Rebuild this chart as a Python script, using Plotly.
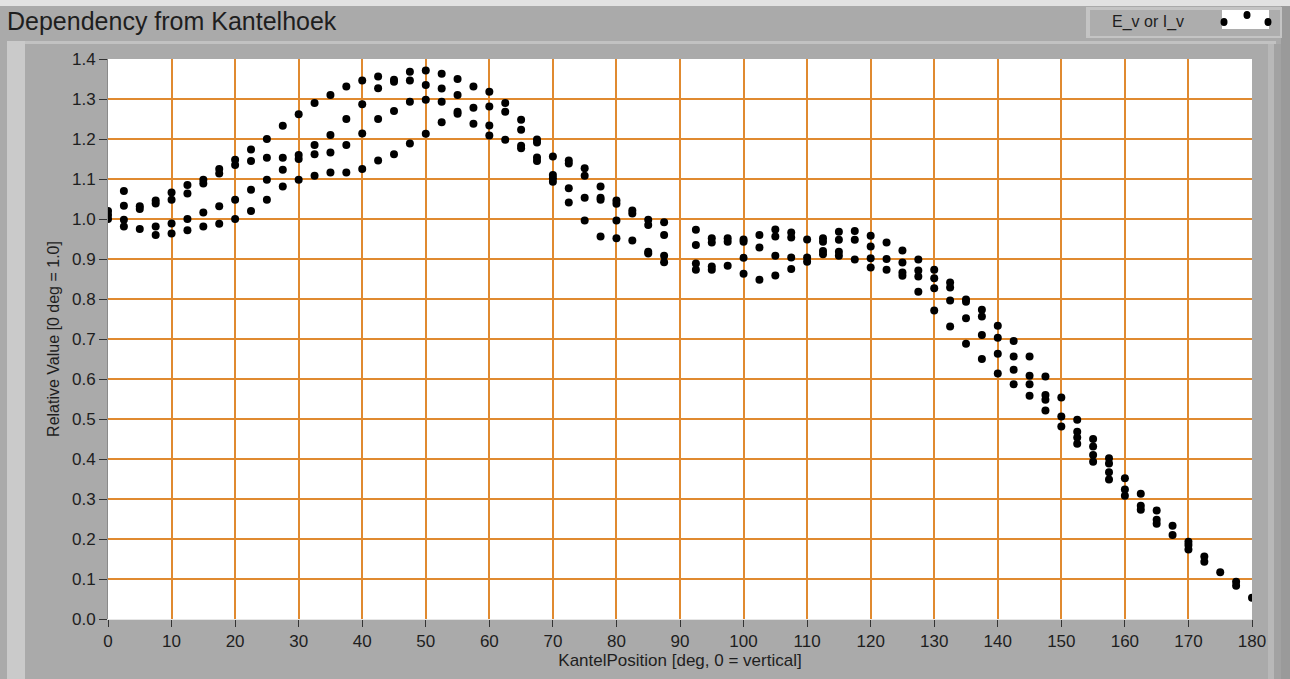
import plotly.graph_objects as go

# Angles (deg) measured every 2.5 deg
angles = [i * 2.5 for i in range(73)]

# Four measured series (top to bottom), None where no point is visible
series_a = [1.02, 1.07, 1.032, 1.046, 1.066, 1.085, 1.098, 1.125, 1.148, 1.174, 1.2, 1.233, 1.262, 1.29, 1.31, 1.331,
            1.346, 1.356, 1.348, 1.368, 1.371, 1.363, 1.35, 1.331, 1.318, 1.29, 1.248, 1.199, 1.156, 1.146, 1.127,
            1.081, 1.046, 1.021, 0.998, 0.992, None, 0.973, 0.952, 0.952, 0.949, 0.96, 0.974, 0.966, 0.949, 0.952,
            0.968, 0.97, 0.958, 0.941, 0.921, 0.899, 0.873, 0.841, 0.799, 0.773, 0.733, 0.695, 0.656, 0.606, 0.554,
            0.498, 0.45, 0.402, 0.352, 0.313, 0.271, 0.233, 0.193, 0.156, 0.117, 0.093, 0.053]
series_b = [1.01, 1.033, 1.025, 1.039, 1.048, 1.064, 1.089, 1.114, 1.135, 1.145, 1.153, 1.153, 1.16, 1.185, 1.21, 1.25,
            1.287, 1.327, 1.343, 1.346, 1.335, 1.326, 1.31, 1.278, 1.281, 1.268, 1.223, 1.191, 1.11, 1.139, 1.108,
            1.053, 1.038, 1.014, 0.985, 0.96, None, 0.935, 0.941, 0.943, 0.943, 0.929, 0.956, 0.954, 0.904, 0.943,
            0.948, 0.948, 0.931, 0.9, 0.891, 0.871, 0.852, 0.829, 0.793, 0.756, 0.703, 0.656, 0.608, 0.56, 0.506,
            0.468, 0.431, 0.389, 0.324, 0.283, 0.248, 0.21, 0.185, 0.143, None, 0.083, None]
series_c = [1.0, 0.998, 0.975, 0.981, 0.989, 1.0, 1.016, 1.032, 1.048, 1.073, 1.098, 1.123, 1.15, 1.162, 1.166, 1.185,
            1.214, 1.25, 1.27, 1.293, 1.298, 1.293, 1.268, 1.238, 1.234, 1.198, 1.183, 1.154, 1.102, 1.077, 1.053,
            1.048, 0.996, 0.946, 0.918, 0.908, None, 0.889, 0.881, 0.883, 0.903, 0.848, 0.908, 0.904, 0.893, 0.92,
            0.918, 0.899, 0.902, 0.873, 0.866, 0.856, 0.827, 0.796, 0.752, 0.71, 0.663, 0.623, 0.587, 0.548, 0.481,
            0.454, 0.41, 0.367, 0.308, 0.273, 0.238, None, 0.174, None, None, None, None]
series_d = [None, 0.981, None, 0.96, 0.964, 0.972, 0.981, 0.988, 1.0, 1.02, 1.048, 1.081, 1.098, 1.108, 1.116, 1.116,
            1.125, 1.146, 1.162, 1.189, 1.213, 1.242, 1.263, None, 1.209, None, 1.177, 1.145, 1.093, 1.041, 0.996,
            0.956, 0.952, None, 0.914, 0.892, None, 0.873, 0.873, None, 0.863, None, 0.859, 0.875, None, 0.912,
            0.908, None, 0.879, None, 0.858, 0.818, 0.771, 0.731, 0.688, 0.65, 0.614, 0.587, 0.558, 0.521, None,
            0.438, 0.393, 0.349, None, None, None, None, None, None, None, None, None]

x_ticks = list(range(0, 181, 10))
y_ticks = [round(i * 0.1, 1) for i in range(15)]

W, H = 1290, 679
L, R, T, B = 108, 38, 59, 60
PW, PH = W - L - R, H - T - B


def px(x):
    return (x - L) / PW


def py(y):
    return (H - B - y) / PH


FRAME = "#AAAAAA"
GRID = "#E08A30"
INK = "#1E1E1E"
FONT = "Liberation Sans"

fig = go.Figure()
all_x, all_y = [], []
for s in (series_a, series_b, series_c, series_d):
    for a, v in zip(angles, s):
        if v is not None:
            all_x.append(a)
            all_y.append(v)

fig.add_trace(go.Scatter(x=all_x, y=all_y, mode="markers", name="E_v or I_v",
                         marker=dict(color="black", size=8, line=dict(width=0)),
                         showlegend=False))

shapes = []


def rect(x0, y0, x1, y1, color, layer="below"):
    shapes.append(dict(type="rect", xref="paper", yref="paper",
                       x0=px(x0), x1=px(x1), y0=py(y1), y1=py(y0),
                       fillcolor=color, line=dict(width=0), layer=layer))


# frame bevels
rect(0, 0, W, 6, "#E2E2E2")
rect(7, 41, 1276, 44, "#C2C2C2")
rect(7, 41, 25, H, "#CACACA")
rect(1268, 44, 1274, H, "#B8B8B8")
rect(1274, 44, 1281, H, "#A2A2A2")
rect(1281, 6, W, H, "#9A9A9A")
# legend box
rect(1086, 7, 1282, 38, "#C4C4C4")
rect(1090, 10, 1280, 36, "#ADADAD")
rect(1222, 10, 1269, 29, "#FFFFFF")
for cx, cy in [(1224, 22), (1247, 15), (1268, 22)]:
    shapes.append(dict(type="circle", xref="paper", yref="paper",
                       x0=px(cx - 3.5), x1=px(cx + 3.5), y0=py(cy + 4), y1=py(cy - 4),
                       fillcolor="black", line=dict(width=0), layer="above"))

annotations = [
    dict(text="Dependency from Kantelhoek", xref="paper", yref="paper",
         x=px(5), y=py(21), xanchor="left", yanchor="middle", showarrow=False,
         font=dict(family=FONT, size=25, color=INK)),
    dict(text="E_v or I_v", xref="paper", yref="paper",
         x=px(1110), y=py(22), xanchor="left", yanchor="middle", showarrow=False,
         font=dict(family=FONT, size=16, color=INK)),
]

fig.update_layout(
    width=W, height=H,
    margin=dict(l=L, r=R, t=T, b=B, pad=0),
    paper_bgcolor=FRAME, plot_bgcolor="white",
    shapes=shapes, annotations=annotations,
    font=dict(family=FONT, size=17, color=INK),
    xaxis=dict(range=[0, 180], tickvals=x_ticks, ticktext=[str(v) for v in x_ticks],
               showgrid=True, gridcolor=GRID, gridwidth=2, zeroline=False,
               ticks="outside", ticklen=7, tickwidth=1, tickcolor="#333333",
               showline=True, linecolor="#E6E6E6", linewidth=1,
               title=dict(text="KantelPosition [deg, 0 = vertical]", standoff=2,
                          font=dict(family=FONT, size=17, color=INK)),
               tickfont=dict(family=FONT, size=17, color=INK)),
    yaxis=dict(range=[0, 1.4], tickvals=y_ticks, ticktext=[f"{v:.1f}" for v in y_ticks],
               showgrid=True, gridcolor=GRID, gridwidth=2, zeroline=False,
               ticks="outside", ticklen=8, tickwidth=1, tickcolor="#333333",
               showline=True, linecolor="#8A8A8A", linewidth=1,
               title=dict(text="Relative Value [0 deg = 1.0]", standoff=8,
                          font=dict(family=FONT, size=16, color=INK)),
               tickfont=dict(family=FONT, size=17, color=INK)),
)

fig.write_html("out.html", config={"displayModeBar": False},
               post_script="document.body.style.margin='0';")
